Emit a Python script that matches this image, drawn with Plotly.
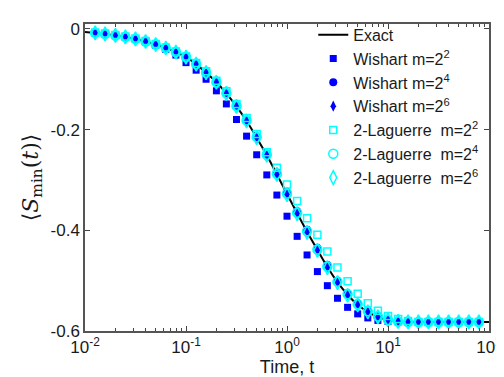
import plotly.graph_objects as go

# time points (log-spaced)
t_pts = [0.0126, 0.0158, 0.0200, 0.0251, 0.0316, 0.0398, 0.0501, 0.0631, 0.0794,
         0.100, 0.126, 0.158, 0.200, 0.251, 0.316, 0.398, 0.501, 0.631, 0.794,
         1.00, 1.26, 1.58, 2.00, 2.51, 3.16, 3.98, 5.01, 6.31, 7.94,
         10.0, 12.6, 15.8, 20.0, 25.1, 31.6, 39.8, 50.1, 63.1, 79.4]

t_exact = [0.0100] + t_pts + [100.0]
s_exact = [-0.006, -0.008, -0.010, -0.013, -0.016, -0.020, -0.025, -0.031, -0.038, -0.046,
           -0.056, -0.070, -0.087, -0.106, -0.128, -0.154, -0.183, -0.216, -0.251, -0.289,
           -0.328, -0.366, -0.403, -0.439, -0.473, -0.503, -0.528, -0.548, -0.562, -0.572,
           -0.578, -0.581, -0.582, -0.582, -0.582, -0.582, -0.582, -0.582, -0.582, -0.582,
           -0.582]

wish_m2 = [-0.008, -0.010, -0.013, -0.016, -0.020, -0.026, -0.033, -0.041, -0.052,
           -0.067, -0.082, -0.100, -0.123, -0.149, -0.180, -0.213, -0.250, -0.290, -0.330,
           -0.372, -0.412, -0.449, -0.482, -0.510, -0.535, -0.553, -0.566, -0.574, -0.579,
           -0.581, -0.582, -0.582, -0.582, -0.582, -0.582, -0.582, -0.582, -0.582, -0.582]

wish_m4 = [-0.008, -0.010, -0.013, -0.016, -0.020, -0.025, -0.031, -0.038, -0.046,
           -0.056, -0.070, -0.086, -0.105, -0.127, -0.152, -0.181, -0.213, -0.248, -0.285,
           -0.324, -0.362, -0.399, -0.435, -0.469, -0.500, -0.525, -0.545, -0.560, -0.570,
           -0.577, -0.581, -0.582, -0.582, -0.582, -0.582, -0.582, -0.582, -0.582, -0.582]

wish_m6 = [-0.008, -0.010, -0.013, -0.016, -0.020, -0.025, -0.031, -0.038, -0.046,
           -0.056, -0.070, -0.087, -0.106, -0.128, -0.154, -0.183, -0.216, -0.251, -0.289,
           -0.328, -0.366, -0.403, -0.439, -0.473, -0.503, -0.528, -0.548, -0.562, -0.572,
           -0.578, -0.581, -0.582, -0.582, -0.582, -0.582, -0.582, -0.582, -0.582, -0.582]

lag_m2 = [-0.007, -0.009, -0.012, -0.015, -0.019, -0.024, -0.030, -0.037, -0.045,
          -0.055, -0.068, -0.084, -0.103, -0.124, -0.149, -0.177, -0.209, -0.245, -0.276,
          -0.309, -0.342, -0.376, -0.409, -0.442, -0.474, -0.501, -0.526, -0.545, -0.560,
          -0.570, -0.576, -0.580, -0.582, -0.582, -0.582, -0.582, -0.582, -0.582, -0.582]

lag_m4 = [-0.008, -0.010, -0.013, -0.016, -0.020, -0.025, -0.031, -0.038, -0.046,
          -0.056, -0.070, -0.087, -0.106, -0.128, -0.153, -0.182, -0.215, -0.250, -0.288,
          -0.327, -0.365, -0.402, -0.438, -0.472, -0.502, -0.527, -0.547, -0.561, -0.571,
          -0.578, -0.581, -0.582, -0.582, -0.582, -0.582, -0.582, -0.582, -0.582, -0.582]

lag_m6 = [-0.008, -0.010, -0.013, -0.016, -0.020, -0.025, -0.031, -0.038, -0.046,
          -0.056, -0.070, -0.087, -0.106, -0.128, -0.154, -0.183, -0.216, -0.251, -0.289,
          -0.329, -0.367, -0.404, -0.440, -0.474, -0.504, -0.529, -0.548, -0.562, -0.572,
          -0.578, -0.581, -0.582, -0.582, -0.582, -0.582, -0.582, -0.582, -0.582, -0.582]

x_tickvals = [0.01, 0.1, 1, 10, 100]
x_ticktext = ["10<sup>-2</sup>", "10<sup>-1</sup>", "10<sup>0</sup>", "10<sup>1</sup>", "10<sup>2</sup>"]
y_tickvals = [0, -0.2, -0.4, -0.6]
y_ticktext = ["0", "-0.2", "-0.4", "-0.6"]

BLUE = "#0000FF"
CYAN = "#00FFFF"
FONT = "Liberation Sans, Arial, sans-serif"

fig = go.Figure()
fig.add_trace(go.Scatter(x=t_exact, y=s_exact, mode="lines", name="Exact",
                         line=dict(color="black", width=2, shape="spline", smoothing=1.0),
                         legendgroup="a"))
fig.add_trace(go.Scatter(x=t_pts, y=wish_m2, mode="markers", name="Wishart m=2<sup>2</sup>",
                         marker=dict(symbol="square", size=7, color=BLUE), legendgroup="b"))
fig.add_trace(go.Scatter(x=t_pts, y=wish_m4, mode="markers", name="Wishart m=2<sup>4</sup>",
                         marker=dict(symbol="circle", size=8, color=BLUE), legendgroup="c"))
fig.add_trace(go.Scatter(x=t_pts, y=wish_m6, mode="markers", name="Wishart m=2<sup>6</sup>",
                         marker=dict(symbol="diamond-tall", size=8, color=BLUE), legendgroup="d"))
fig.add_trace(go.Scatter(x=t_pts, y=lag_m2, mode="markers", name="2-Laguerre  m=2<sup>2</sup>",
                         marker=dict(symbol="square-open", size=7, color=CYAN, line=dict(width=1.5)),
                         legendgroup="e"))
fig.add_trace(go.Scatter(x=t_pts, y=lag_m4, mode="markers", name="2-Laguerre  m=2<sup>4</sup>",
                         marker=dict(symbol="circle-open", size=9, color=CYAN, line=dict(width=1.5)),
                         legendgroup="f"))
fig.add_trace(go.Scatter(x=t_pts, y=lag_m6, mode="markers", name="2-Laguerre  m=2<sup>6</sup>",
                         marker=dict(symbol="diamond-tall-open", size=10, color=CYAN, line=dict(width=1.5)),
                         legendgroup="g"))

minor_vals = [m * d for d in [0.01, 0.1, 1, 10] for m in range(2, 10)]

fig.update_layout(
    width=504, height=377,
    margin=dict(l=77, r=14, t=10, b=54),
    paper_bgcolor="white", plot_bgcolor="white",
    font=dict(family=FONT, size=17, color="#1a1a1a"),
    showlegend=True,
    legend=dict(x=0.565, y=1.02, xanchor="left", yanchor="top",
                bgcolor="rgba(255,255,255,0)", borderwidth=0,
                font=dict(family=FONT, size=16, color="#1a1a1a"),
                tracegroupgap=2, traceorder="normal"),
    xaxis=dict(type="log", range=[-2, 2], tickvals=x_tickvals, ticktext=x_ticktext,
               ticks="inside", ticklen=5, tickcolor="#444", tickwidth=1,
               showline=True, linecolor="#555", linewidth=1.5, mirror="ticks",
               showgrid=False, zeroline=False,
               minor=dict(tickvals=minor_vals, ticks="inside", ticklen=3, tickcolor="#444", showgrid=False),
               title=dict(text="Time, t", font=dict(family=FONT, size=18), standoff=4),
               tickfont=dict(family=FONT, size=17)),
    yaxis=dict(range=[-0.6, 0.0097], tickvals=y_tickvals, ticktext=y_ticktext,
               ticks="inside", ticklen=5, tickcolor="#444", tickwidth=1,
               showline=True, linecolor="#555", linewidth=1.5, mirror="ticks",
               showgrid=False, zeroline=False,
               title=dict(text="⟨<i>S</i><sub>min</sub>(<i>t</i>)⟩",
                          font=dict(family="DejaVu Serif, Liberation Serif, serif", size=22), standoff=6),
               tickfont=dict(family=FONT, size=17)),
)

fig.write_html("out.html")
